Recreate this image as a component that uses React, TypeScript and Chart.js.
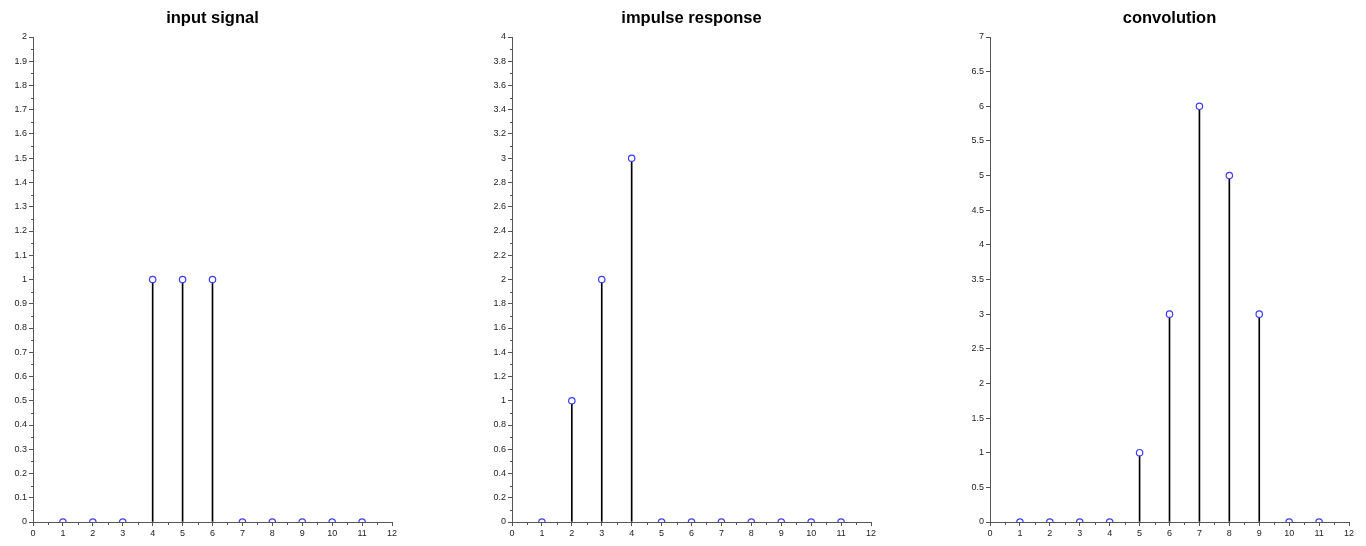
import React, { useEffect, useRef } from "react";
import { Chart, registerables } from "chart.js";

Chart.register(...registerables);

// ---- data ----
const sampleIndex = [1, 2, 3, 4, 5, 6, 7, 8, 9, 10, 11];
const inputSignal = [0, 0, 0, 1, 1, 1, 0, 0, 0, 0, 0];
const impulseResponse = [0, 1, 2, 3, 0, 0, 0, 0, 0, 0, 0];
const convolution = [0, 0, 0, 0, 1, 3, 6, 5, 3, 0, 0];
const titles = ["input signal", "impulse response", "convolution"];

type Panel = {
  title: string;
  values: number[];
  yMax: number;
  yStep: number;
  yMinor: number | null;
  canvasLeft: number;
  canvasWidth: number;
  yAxisWidth: number;
  padRight: number;
};

const panels: Panel[] = [
  { title: titles[0], values: inputSignal, yMax: 2, yStep: 0.1, yMinor: 0.05, canvasLeft: 0, canvasWidth: 455, yAxisWidth: 33, padRight: 63 },
  { title: titles[1], values: impulseResponse, yMax: 4, yStep: 0.2, yMinor: 0.1, canvasLeft: 455, canvasWidth: 455, yAxisWidth: 57, padRight: 39 },
  { title: titles[2], values: convolution, yMax: 7, yStep: 0.5, yMinor: null, canvasLeft: 910, canvasWidth: 456, yAxisWidth: 80, padRight: 17 },
];

const AXIS_COLOR = "#555";
const TICK_FONT = { family: "'Liberation Sans', Arial, sans-serif", size: 9 };
const fmt = (v: any) => String(Number(Number(v).toFixed(3)));

const titlePlugin = {
  id: "centerTitle",
  afterDraw(chart: any, _args: any, opts: any) {
    const { ctx, chartArea } = chart;
    ctx.save();
    ctx.font = "bold 16.5px 'Liberation Sans', Arial, sans-serif";
    ctx.fillStyle = "#000";
    ctx.textAlign = "center";
    ctx.textBaseline = "middle";
    ctx.fillText(opts.text, (chartArea.left + chartArea.right) / 2, 18);
    ctx.restore();
  },
};

const minorTickPlugin = {
  id: "minorTicks",
  afterDraw(chart: any, _args: any, opts: any) {
    const { ctx } = chart;
    const xs = chart.scales.x;
    const ys = chart.scales.y;
    ctx.save();
    ctx.strokeStyle = AXIS_COLOR;
    ctx.lineWidth = 1;
    ctx.beginPath();
    if (opts.xMinor) {
      const y0 = Math.round(ys.getPixelForValue(ys.min)) + 0.5;
      for (let v = xs.min + opts.xMinor; v < xs.max; v += opts.xMinor * 2) {
        const px = Math.round(xs.getPixelForValue(v)) + 0.5;
        ctx.moveTo(px, y0);
        ctx.lineTo(px, y0 + 2.5);
      }
    }
    if (opts.yMinor) {
      const x0 = Math.round(xs.getPixelForValue(xs.min)) + 0.5;
      for (let v = ys.min + opts.yMinor; v < ys.max - 1e-9; v += opts.yMinor * 2) {
        const py = Math.round(ys.getPixelForValue(v)) + 0.5;
        ctx.moveTo(x0, py);
        ctx.lineTo(x0 - 2.5, py);
      }
    }
    ctx.stroke();
    ctx.restore();
  },
};

function StemPanel({ p }: { p: Panel }) {
  const ref = useRef<HTMLCanvasElement | null>(null);
  useEffect(() => {
    if (!ref.current) return;
    const chart = new Chart(ref.current, {
      type: "scatter",
      data: {
        datasets: [
          {
            type: "scatter",
            data: sampleIndex.map((x, i) => ({ x, y: p.values[i] })),
            pointRadius: 3.2,
            pointBorderWidth: 1.2,
            pointBorderColor: "#3c3cff",
            pointBackgroundColor: "#ffffff",
            showLine: false,
          } as any,
          {
            type: "bar",
            data: sampleIndex.map((x, i) => ({ x, y: p.values[i] })),
            barThickness: 1,
            backgroundColor: "#000",
            borderWidth: 0,
          } as any,
        ],
      },
      options: {
        animation: false,
        responsive: false,
        events: [],
        layout: { padding: { top: 37, bottom: 0, left: 0, right: p.padRight } },
        scales: {
          x: {
            type: "linear",
            min: 0,
            max: 12,
            offset: false,
            grid: { display: true, drawOnChartArea: false, drawTicks: true, tickLength: 4, tickColor: AXIS_COLOR, offset: false },
            border: { display: true, color: AXIS_COLOR, width: 1 },
            ticks: { stepSize: 1, autoSkip: false, maxRotation: 0, padding: 2, color: "#222", font: TICK_FONT, callback: fmt },
            afterFit: (s: any) => { s.height = 24; },
          },
          y: {
            type: "linear",
            min: 0,
            max: p.yMax,
            grid: { display: true, drawOnChartArea: false, drawTicks: true, tickLength: 4, tickColor: AXIS_COLOR },
            border: { display: true, color: AXIS_COLOR, width: 1 },
            ticks: { stepSize: p.yStep, autoSkip: false, maxTicksLimit: 100, padding: 2, color: "#222", font: TICK_FONT, callback: fmt },
            afterFit: (s: any) => { s.width = p.yAxisWidth; },
          },
        },
        plugins: {
          legend: { display: false },
          tooltip: { enabled: false },
          title: { display: false },
          centerTitle: { text: p.title },
          minorTicks: { xMinor: 0.5, yMinor: p.yMinor },
        } as any,
      },
      plugins: [titlePlugin, minorTickPlugin],
    } as any);
    return () => chart.destroy();
  }, [p]);
  return (
    <canvas
      ref={ref}
      width={p.canvasWidth}
      height={546}
      style={{ position: "absolute", left: p.canvasLeft, top: 0, width: p.canvasWidth, height: 546 }}
    />
  );
}

export default function App() {
  return (
    <div style={{ position: "fixed", left: 0, top: 0, width: 1366, height: 546, background: "#fff", overflow: "hidden" }}>
      {panels.map((p, i) => (
        <StemPanel key={i} p={p} />
      ))}
    </div>
  );
}
